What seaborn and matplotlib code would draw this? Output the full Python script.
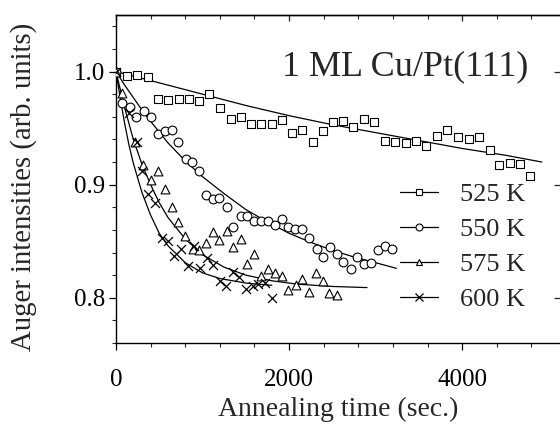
import numpy as np
import pandas as pd
import matplotlib
matplotlib.use("Agg")
import matplotlib.pyplot as plt
from matplotlib.lines import Line2D
from matplotlib.ticker import MultipleLocator, FormatStrFormatter, NullFormatter
import seaborn as sns

# ---- data ----
labels = ["525 K", "550 K", "575 K", "600 K"]
markers = ["s", "o", "^", "x"]

t525 = [0, 124, 247, 366, 489, 605, 724, 844, 959, 1079, 1202, 1326, 1445, 1561, 1680, 1800, 1919, 2035,
        2150, 2274, 2397, 2512, 2628, 2743, 2871, 2983, 3110, 3225, 3353, 3468, 3584, 3707, 3823, 3946,
        4073, 4189, 4317, 4428, 4547, 4671, 4786]
y525 = [1.0, 0.996, 0.997, 0.995, 0.976, 0.975, 0.976, 0.976, 0.974, 0.980, 0.968, 0.958, 0.960, 0.954,
        0.954, 0.954, 0.957, 0.946, 0.948, 0.938, 0.947, 0.955, 0.956, 0.951, 0.958, 0.955, 0.939, 0.938,
        0.937, 0.939, 0.934, 0.943, 0.948, 0.942, 0.940, 0.942, 0.931, 0.917, 0.919, 0.918, 0.908]

t550 = [0, 69, 158, 231, 324, 401, 489, 566, 643, 720, 805, 882, 963, 1040, 1118, 1195, 1280, 1357, 1441,
        1518, 1595, 1676, 1761, 1838, 1915, 1992, 2069, 2154, 2235, 2320, 2397, 2474, 2550, 2628, 2713,
        2790, 2867, 2948, 3025, 3110, 3187]
y550 = [1.0, 0.972, 0.969, 0.960, 0.965, 0.960, 0.945, 0.947, 0.948, 0.938, 0.923, 0.920, 0.912, 0.891,
        0.887, 0.888, 0.880, 0.863, 0.872, 0.872, 0.868, 0.868, 0.868, 0.864, 0.870, 0.863, 0.861, 0.861,
        0.853, 0.843, 0.836, 0.845, 0.839, 0.832, 0.825, 0.836, 0.830, 0.831, 0.842, 0.846, 0.843]

t575 = [0, 69, 220, 316, 401, 489, 566, 643, 720, 798, 886, 963, 1040, 1118, 1195, 1280, 1357, 1441, 1518,
        1595, 1676, 1761, 1838, 1915, 1992, 2077, 2154, 2235, 2312, 2389, 2466, 2550]
y575 = [1.0, 0.981, 0.938, 0.917, 0.904, 0.912, 0.896, 0.880, 0.867, 0.855, 0.843, 0.842, 0.848, 0.858,
        0.851, 0.859, 0.845, 0.852, 0.830, 0.839, 0.819, 0.825, 0.822, 0.819, 0.807, 0.811, 0.817, 0.805,
        0.822, 0.815, 0.804, 0.802]

t600 = [0, 147, 246, 300, 370, 447, 528, 597, 668, 750, 833, 905, 967, 1048, 1125, 1202, 1270, 1357, 1424,
        1506, 1580, 1645, 1723, 1800]
y600 = [1.0, 0.963, 0.938, 0.912, 0.892, 0.884, 0.853, 0.850, 0.837, 0.843, 0.828, 0.846, 0.826, 0.835,
        0.829, 0.815, 0.810, 0.823, 0.818, 0.808, 0.810, 0.812, 0.813, 0.800]

# fitted curves
fit525_t = [0, 500, 1000, 1500, 2000, 2500, 3000, 3500, 4000, 4500, 4920]
fit525_y = [1.0, 0.990, 0.980, 0.970, 0.961, 0.953, 0.946, 0.939, 0.932, 0.926, 0.920]
fit550_t = [0, 100, 200, 300, 400, 600, 800, 1000, 1250, 1500, 1750, 2000, 2250, 2500, 2750, 3000, 3240]
fit550_y = [1.0, 0.988, 0.977, 0.966, 0.956, 0.937, 0.921, 0.907, 0.892, 0.878, 0.867, 0.857, 0.849,
            0.842, 0.836, 0.831, 0.826]
fit575_t = [0, 50, 100, 150, 200, 300, 400, 500, 600, 800, 1000, 1250, 1500, 1800, 2100, 2500, 2900]
fit575_y = [1.0, 0.984, 0.968, 0.954, 0.940, 0.918, 0.900, 0.884, 0.871, 0.852, 0.838, 0.827, 0.820,
            0.815, 0.812, 0.810, 0.809]
fit600_t = [0, 50, 100, 150, 200, 300, 400, 500, 600, 800, 1000, 1200, 1500, 1800]
fit600_y = [1.0, 0.976, 0.954, 0.935, 0.919, 0.893, 0.873, 0.857, 0.846, 0.831, 0.822, 0.817, 0.813, 0.811]

title_text = "1 ML Cu/Pt(111)"
xlabel = "Annealing time (sec.)"
ylabel = "Auger intensities (arb. units)"

# ---- build tables ----
pts = pd.concat([
    pd.DataFrame({"t": t525, "y": y525, "T": labels[0]}),
    pd.DataFrame({"t": t550, "y": y550, "T": labels[1]}),
    pd.DataFrame({"t": t575, "y": y575, "T": labels[2]}),
    pd.DataFrame({"t": t600, "y": y600, "T": labels[3]}),
])
fits = pd.concat([
    pd.DataFrame({"t": fit525_t, "y": fit525_y, "T": labels[0]}),
    pd.DataFrame({"t": fit550_t, "y": fit550_y, "T": labels[1]}),
    pd.DataFrame({"t": fit575_t, "y": fit575_y, "T": labels[2]}),
    pd.DataFrame({"t": fit600_t, "y": fit600_y, "T": labels[3]}),
])

sns.set_style("ticks")
plt.rcParams["font.family"] = ["Liberation Serif", "DejaVu Serif"]

fig = plt.figure(figsize=(5.6, 4.24), dpi=100)
ax = fig.add_axes([116 / 560, 1 - 343 / 424, (560 - 116) / 560, (343 - 15) / 424])

for lab in labels:
    d = fits[fits["T"] == lab]
    sns.lineplot(data=d, x="t", y="y", ax=ax, color="black", lw=0.9, sort=False,
                 estimator=None, legend=False)

for lab, m in zip(labels, markers):
    d = pts[pts["T"] == lab]
    if m == "x":
        sns.scatterplot(data=d, x="t", y="y", ax=ax, marker="x", color="black", s=42,
                        linewidth=0.9, legend=False, zorder=3)
    else:
        sns.scatterplot(data=d, x="t", y="y", ax=ax, marker=m, facecolor="white",
                        edgecolor="black", s=40, linewidth=0.8, legend=False, zorder=3)

ax.set_xlim(0, 5130)
ax.set_ylim(0.76, 1.05)
ax.xaxis.set_major_locator(MultipleLocator(2000))
ax.xaxis.set_minor_locator(MultipleLocator(400))
ax.yaxis.set_major_locator(MultipleLocator(0.1))
ax.yaxis.set_minor_locator(MultipleLocator(0.02))
ax.yaxis.set_major_formatter(FormatStrFormatter("%.1f"))

for name, s in ax.spines.items():
    s.set_linewidth(1.0)
    s.set_color("black")
ax.spines["right"].set_visible(False)

ax.tick_params(axis="both", which="major", direction="out", length=5, width=0.9,
               labelsize=18, colors="black")
ax.tick_params(axis="both", which="minor", direction="out", length=3, width=0.8)
ax.tick_params(axis="x", which="major", pad=14)
ax.tick_params(axis="y", which="major", pad=3)

# top ticks (inward) and right major ticks (inward)
top = ax.secondary_xaxis("top")
top.xaxis.set_major_locator(MultipleLocator(2000))
top.xaxis.set_minor_locator(MultipleLocator(400))
top.xaxis.set_major_formatter(NullFormatter())
top.tick_params(which="major", direction="in", length=4, width=0.9)
top.tick_params(which="minor", direction="in", length=3, width=0.8)
top.spines["top"].set_linewidth(1.0)

right = ax.secondary_yaxis("right")
right.yaxis.set_major_locator(MultipleLocator(0.1))
right.yaxis.set_major_formatter(NullFormatter())
right.tick_params(which="major", direction="in", length=4, width=0.9)
right.spines["right"].set_visible(False)

ax.set_xlabel(xlabel, fontsize=20, labelpad=4)
ax.set_ylabel(ylabel, fontsize=20.7, labelpad=22)
ax.yaxis.set_label_coords(-(116 - 24) / 444 - 0.0, 1 - (187 - 15) / 328)
ax.yaxis.label.set_va("center")

ax.text((282 - 116) / 444, 1 - (75 - 15) / 328, title_text, transform=ax.transAxes,
        fontsize=26, va="baseline", ha="left")

handles = []
for lab, m in zip(labels, markers):
    if m == "x":
        h = Line2D([], [], color="black", lw=0.9, marker="x", markersize=6,
                   markeredgewidth=0.9, label=lab)
    else:
        h = Line2D([], [], color="black", lw=0.9, marker=m, markersize=5,
                   markerfacecolor="white", markeredgecolor="black", markeredgewidth=0.8, label=lab)
    handles.append(h)

ax.legend(handles=handles, loc="center left",
          bbox_to_anchor=((400 - 116) / 444, 1 - (247 - 15) / 328),
          frameon=False, fontsize=19, handlelength=1.44, handletextpad=0.85,
          labelspacing=0.44, borderpad=0, borderaxespad=0, numpoints=1)

fig.savefig("out.png", dpi=100)
